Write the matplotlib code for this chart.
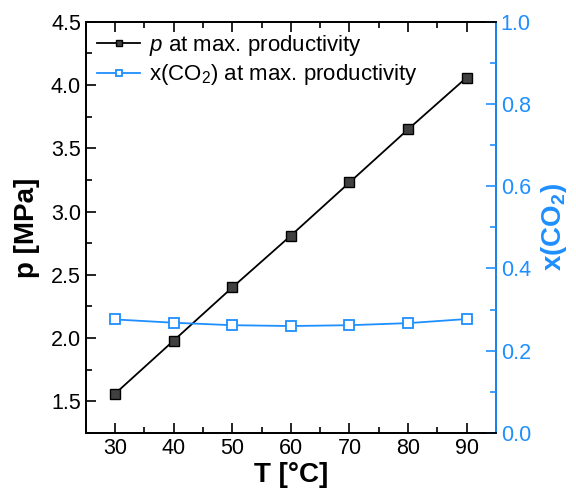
import numpy as np
import matplotlib.pyplot as plt
from matplotlib.ticker import MultipleLocator

plt.rcParams['font.family'] = ['Liberation Sans', 'DejaVu Sans']
plt.rcParams['mathtext.fontset'] = 'custom'
plt.rcParams['mathtext.rm'] = 'Liberation Sans'
plt.rcParams['mathtext.it'] = 'Liberation Sans:italic'
plt.rcParams['mathtext.bf'] = 'Liberation Sans:bold'

# temperatures and results at max. productivity
temps = [30, 40, 50, 60, 70, 80, 90]
p_max = [1.56, 1.98, 2.40, 2.81, 3.23, 3.65, 4.06]
x_co2 = [0.276, 0.268, 0.262, 0.260, 0.262, 0.267, 0.277]

blue = '#1E8FFF'

fig = plt.figure(figsize=(5.76, 4.97), dpi=100)
ax = fig.add_axes([0.149, 0.129, 0.712, 0.827])
ax2 = ax.twinx()

l1, = ax.plot(temps, p_max, '-', color='black', lw=1.3, marker='s', ms=7,
              mfc='#404040', mec='black', mew=1.0, label=r'$\it{p}$ at max. productivity')
l2, = ax2.plot(temps, x_co2, '-', color=blue, lw=1.3, marker='s', ms=7,
               mfc='white', mec=blue, mew=1.3, label=r'x(CO$_2$) at max. productivity')

ax.set_xlim(25, 95)
ax.set_ylim(1.25, 4.5)
ax2.set_ylim(0, 1.0)

ax.xaxis.set_major_locator(MultipleLocator(10))
ax.xaxis.set_minor_locator(MultipleLocator(5))
ax.yaxis.set_major_locator(MultipleLocator(0.5))
ax.yaxis.set_minor_locator(MultipleLocator(0.25))
ax2.yaxis.set_major_locator(MultipleLocator(0.2))
ax2.yaxis.set_minor_locator(MultipleLocator(0.1))

ax.tick_params(which='both', direction='in', top=True, labelsize=15.5, width=1.2)
ax.tick_params(which='major', length=7)
ax.tick_params(which='minor', length=4)
ax.tick_params(axis='y', right=False)
ax2.tick_params(which='both', direction='in', colors=blue, labelsize=15.5, width=1.2)
ax2.tick_params(which='major', length=7)
ax2.tick_params(which='minor', length=4)

for s in ax.spines.values():
    s.set_linewidth(1.3)
for s in ax2.spines.values():
    s.set_linewidth(1.3)
ax2.spines['right'].set_color(blue)

ax.set_xlabel('T [°C]', fontsize=20, fontweight='bold', labelpad=2)
ax.set_ylabel('p [MPa]', fontsize=20, fontweight='bold', labelpad=8)
ax2.set_ylabel(r'$\mathbf{x(CO_2)}$', fontsize=20, color=blue, labelpad=6)

ax.legend(handles=[l1, l2], loc='upper left', frameon=False, fontsize=16,
          handlelength=1.95, handletextpad=0.4, borderpad=0.15, borderaxespad=0.35,
          labelspacing=0.2, markerscale=0.7)

fig.savefig('out.png', dpi=100)
